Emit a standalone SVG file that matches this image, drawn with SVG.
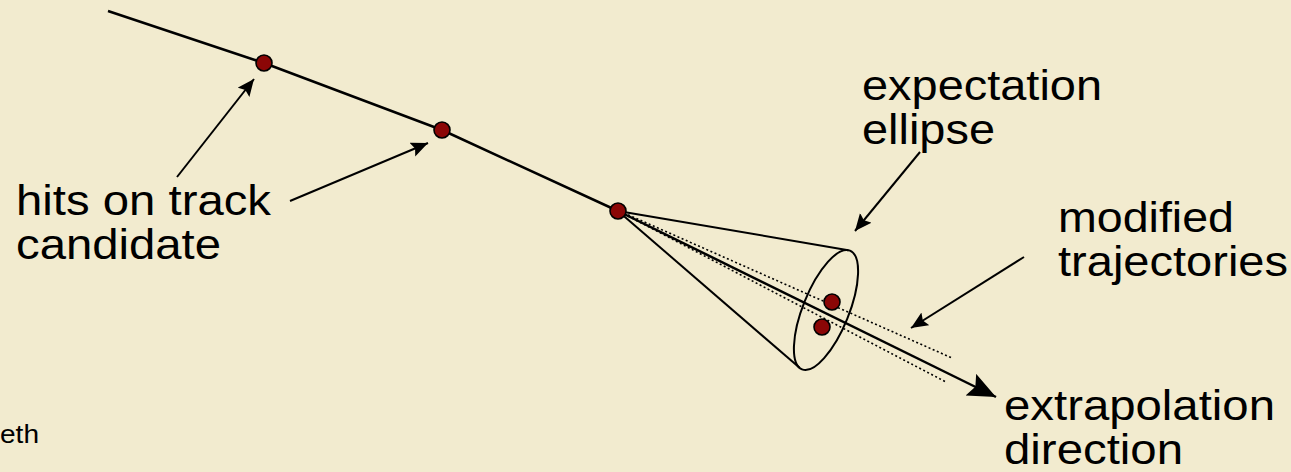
<svg xmlns="http://www.w3.org/2000/svg" width="1291" height="472" viewBox="0 0 1291 472">
  <defs>
    <style>
      .lbl { font-family: "Liberation Sans", Arial, sans-serif; font-size: 43px; fill: #000; }
      .small { font-family: "Liberation Sans", Arial, sans-serif; font-size: 25px; fill: #000; }
      .track { fill: none; stroke: #000; stroke-width: 2.5; stroke-linejoin: round; }
      .cone { fill: none; stroke: #000; stroke-width: 2; }
      .dot { fill: none; stroke: #000; stroke-width: 1.6; stroke-dasharray: 2 2.5; }
      .ptr { fill: none; stroke: #000; stroke-width: 2; }
      .hit { fill: #8B0606; stroke: #000; stroke-width: 1.6; }
    </style>
    <marker id="head" markerUnits="userSpaceOnUse" markerWidth="18" markerHeight="16" refX="17" refY="7.5" orient="auto">
      <path d="M0,0 L17,7.5 L0,15 L3,7.5 z" fill="#000"/>
    </marker>
    <marker id="bighead" markerUnits="userSpaceOnUse" markerWidth="30" markerHeight="26" refX="28" refY="12" orient="auto">
      <path d="M0,0 L28,12 L0,24 L5,12 z" fill="#000"/>
    </marker>
  </defs>
  <rect x="0" y="0" width="1291" height="472" fill="#F2EBCF"/>

  <g id="connectors">
    <path class="track" d="M108,11 L264,63 L442,130 L618,211"/>
    <line class="dot" x1="624" y1="213" x2="952" y2="358"/>
    <line class="dot" x1="624" y1="214" x2="946" y2="382"/>
    <line class="track" x1="618" y1="211" x2="996" y2="397" marker-end="url(#bighead)"/>
    <line class="ptr" x1="177" y1="177" x2="254" y2="79" marker-end="url(#head)"/>
    <line class="ptr" x1="290" y1="201" x2="428" y2="143" marker-end="url(#head)"/>
    <line class="ptr" x1="920" y1="152" x2="855" y2="231" marker-end="url(#head)"/>
    <line class="ptr" x1="1024" y1="257" x2="911" y2="328" marker-end="url(#head)"/>
  </g>

  <g id="cone">
    <line class="cone" x1="618" y1="211" x2="848.3" y2="250.2"/>
    <line class="cone" x1="618" y1="211" x2="799.6" y2="367.8"/>
    <ellipse class="cone" cx="826" cy="310" rx="23" ry="64" transform="rotate(22 826 310)"/>
  </g>

  <g id="hit1"><circle class="hit" cx="264" cy="63" r="8"/></g>
  <g id="hit2"><circle class="hit" cx="442" cy="130" r="8"/></g>
  <g id="hit3"><circle class="hit" cx="618" cy="211" r="8"/></g>
  <g id="hit4"><circle class="hit" cx="832" cy="302" r="8"/></g>
  <g id="hit5"><circle class="hit" cx="822" cy="327" r="8"/></g>

  <g id="label-hits">
    <text class="lbl" x="16" y="215" textLength="255" lengthAdjust="spacingAndGlyphs">hits on track</text>
    <text class="lbl" x="16" y="259" textLength="205" lengthAdjust="spacingAndGlyphs">candidate</text>
  </g>
  <g id="label-ellipse">
    <text class="lbl" x="862" y="100" textLength="240" lengthAdjust="spacingAndGlyphs">expectation</text>
    <text class="lbl" x="862" y="144" textLength="133" lengthAdjust="spacingAndGlyphs">ellipse</text>
  </g>
  <g id="label-modified">
    <text class="lbl" x="1058" y="232" textLength="176" lengthAdjust="spacingAndGlyphs">modified</text>
    <text class="lbl" x="1058" y="276" textLength="230" lengthAdjust="spacingAndGlyphs">trajectories</text>
  </g>
  <g id="label-extrap">
    <text class="lbl" x="1004" y="420" textLength="271" lengthAdjust="spacingAndGlyphs">extrapolation</text>
    <text class="lbl" x="1004" y="464" textLength="179" lengthAdjust="spacingAndGlyphs">direction</text>
  </g>
  <g id="footer">
    <text class="small" x="0" y="443" textLength="39" lengthAdjust="spacingAndGlyphs">eth</text>
  </g>
</svg>
